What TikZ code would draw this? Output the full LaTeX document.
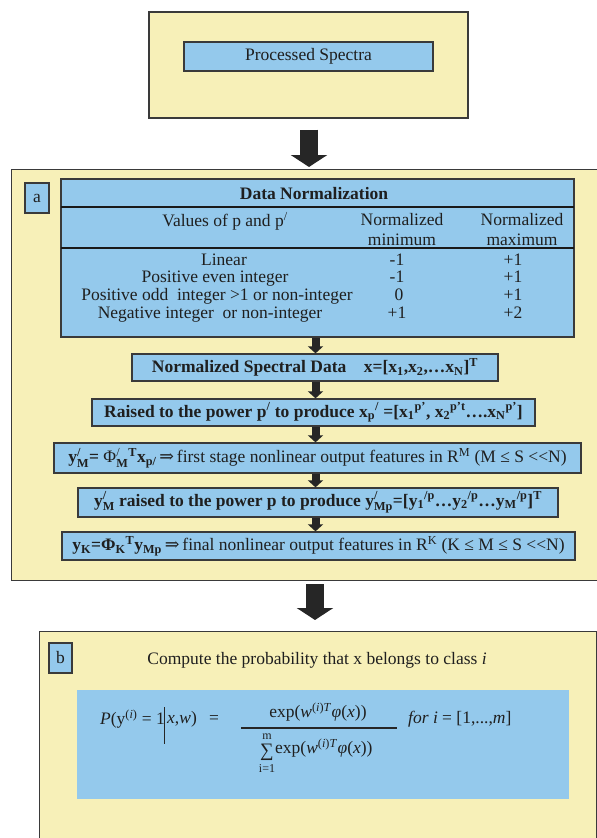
\documentclass[tikz,border=0pt]{standalone}
\usepackage{fontspec}
\usepackage{amsmath}
\setmainfont{Liberation Serif}
\newfontfamily\symf{DejaVu Serif}
\usetikzlibrary{arrows.meta,calc}
\definecolor{ylw}{HTML}{F7F0B8}
\definecolor{blu}{HTML}{94C9EC}
\definecolor{brd}{HTML}{3A3A3A}
\newcommand\SupSub[2]{\ensuremath{^{\text{#1}}_{\text{#2}}}}
\begin{document}
\begin{tikzpicture}[x=1pt,y=-1pt,
  every node/.style={font=\fontsize{17.5}{19}\selectfont, inner sep=0pt, text=black!88},
  panel/.style={draw=brd, fill=ylw, line width=1.3pt},
  bluebox/.style={draw=brd, fill=blu, line width=1.3pt},
  bigarrow/.style={draw=black!85, line width=18pt, -{Triangle[width=36pt,length=12pt]}},
  smallarrow/.style={draw=black!85, line width=8pt, -{Triangle[width=15pt,length=7pt]}},
  sep/.style={draw=black!90, line width=1.3pt},
  row/.style={text height=11pt, text depth=2.5pt},
  small/.style={font=\fontsize{12}{13}\selectfont, text height=8pt, text depth=0pt}]
\clip (0,0) rectangle (597,838);
% top panel
\node[panel, minimum width=319, minimum height=106] (top) at (308.5,65) {};
\node[bluebox, minimum width=249, minimum height=29] (ps) at (308.5,56.5) {Processed Spectra};
% panel a
\node[panel, anchor=north west, minimum width=620, minimum height=411] (boxa) at (10.5,169) {};
\node[bluebox, minimum width=24, minimum height=30] (la) at (37,198) {a};
% table
\node[bluebox, minimum width=513, minimum height=158] (tbl) at (317.5,258) {};
\draw[sep] (61,207) -- (574,207);
\draw[sep] (61,248) -- (574,248);
\node[font=\bfseries\fontsize{17.5}{19}\selectfont] (ttl) at (314,194) {Data Normalization};
\node (h1) at (225,221) {Values of p and p\textsuperscript{/}};
\node[align=center, font=\fontsize{17.5}{20}\selectfont] (h2) at (402,230) {Normalized\\minimum};
\node[align=center, font=\fontsize{17.5}{20}\selectfont] (h3) at (522,230) {Normalized\\maximum};
\node[row] (r1a) at (224,261.5) {Linear};
\node[row] (r2a) at (215,278) {Positive even integer};
\node[row] (r3a) at (217,296) {Positive odd\ \ integer >1 or non-integer};
\node[row] (r4a) at (210,314.5) {Negative integer\ \ or non-integer};
\node[row] (r1b) at (397,261.5) {-1};
\node[row] (r2b) at (397,278) {-1};
\node[row] (r3b) at (399,296) {0};
\node[row] (r4b) at (397,314.5) {+1};
\node[row] (r1c) at (513,261.5) {+1};
\node[row] (r2c) at (513,278) {+1};
\node[row] (r3c) at (513,296) {+1};
\node[row] (r4c) at (513,314.5) {+2};
% stage boxes
\node[bluebox, minimum width=366, minimum height=27] (nsd) at (315,367.5)
  {\textbf{Normalized Spectral Data\quad x=[x\textsubscript{1},x\textsubscript{2},…x\textsubscript{N}]\textsuperscript{T}}};
\node[bluebox, minimum width=443, minimum height=27] (rai) at (313.5,412.5)
  {\textbf{Raised to the power p\textsuperscript{/} to produce x\textsubscript{p}\textsuperscript{/} =[x\textsubscript{1}\textsuperscript{p’}, x\textsubscript{2}\textsuperscript{p’t}….x\textsubscript{N}\textsuperscript{p’}]}};
\node[bluebox, minimum width=527, minimum height=30] (ym) at (317.5,458)
  {\textbf{y\SupSub{/}{M}=} Φ\SupSub{/}{\textbf{M}}\textsuperscript{\textbf{T}}\textbf{x\textsubscript{p/}}\,{\symf ⇒}\,first stage nonlinear output features in R\textsuperscript{M} (M ≤ S <{}<N)};
\node[bluebox, minimum width=480, minimum height=29] (ymr) at (318,502.5)
  {\textbf{y\SupSub{/}{M} raised to the power p to produce y\SupSub{/}{Mp}=[y\textsubscript{1}\textsuperscript{/p}…y\textsubscript{2}\textsuperscript{/p}…y\textsubscript{M}\textsuperscript{/p}]\textsuperscript{T}}};
\node[bluebox, minimum width=513, minimum height=28] (yk) at (318.5,546)
  {\textbf{y\textsubscript{K}=Φ\textsubscript{K}\textsuperscript{T}y\textsubscript{Mp}}\,{\symf ⇒}\,final nonlinear output features in R\textsuperscript{K} (K ≤ M ≤ S <{}<N)};
% panel b
\node[panel, anchor=north west, minimum width=557, minimum height=240] (boxb) at (39,631) {};
\node[bluebox, minimum width=23, minimum height=30] (lb) at (60.5,658) {b};
\node (cmp) at (317,660) {Compute the probability that x belongs to class \textit{i}};
\node[fill=blu, minimum width=492, minimum height=109] (fbox) at (323,744.5) {};
\node[anchor=west] (fP) at (100,719) {\textit{P}(y\textsuperscript{(\textit{i})} = 1};
\draw[line width=1.6pt, black!85] (164.5,707) -- (164.5,744);
\node[anchor=west] (fx) at (167,719) {\textit{x},\textit{w})};
\node (feq) at (214,719) {=};
\node (num) at (318,712) {exp(\textit{w}\textsuperscript{(\textit{i})\textit{T}}\textit{φ}(\textit{x}))};
\draw[line width=1.2pt, black!85] (241,728) -- (397,728);
\node[font=\fontsize{19}{19}\selectfont, text height=11pt, text depth=1pt] (sig) at (267,751) {∑};
\node[small] (sm) at (267,735) {m};
\node[small] (si) at (267,768) {i=1};
\node[anchor=west] (den) at (275,748) {exp(\textit{w}\textsuperscript{(\textit{i})\textit{T}}\textit{φ}(\textit{x}))};
\node[anchor=west] (ffor) at (408,719) {\textit{for i} = [1,...,\textit{m}]};
% arrows
\coordinate (c1) at (309,0);
\coordinate (c2) at (315,0);
\coordinate (c3) at (315.5,0);
\draw[bigarrow] ($(top.south -| c1)+(0,11)$) -- ($(boxa.north -| c1)+(0,-2)$);
\draw[bigarrow] ($(boxa.south -| c2)+(0,3)$) -- ($(boxb.north -| c2)+(0,-11)$);
\draw[smallarrow] (tbl.south -| c3) -- (nsd.north -| c3);
\draw[smallarrow] (nsd.south -| c3) -- (rai.north -| c3);
\draw[smallarrow] (rai.south -| c3) -- (ym.north -| c3);
\draw[smallarrow] (ym.south -| c3) -- (ymr.north -| c3);
\draw[smallarrow] (ymr.south -| c3) -- (yk.north -| c3);
\end{tikzpicture}
\end{document}
